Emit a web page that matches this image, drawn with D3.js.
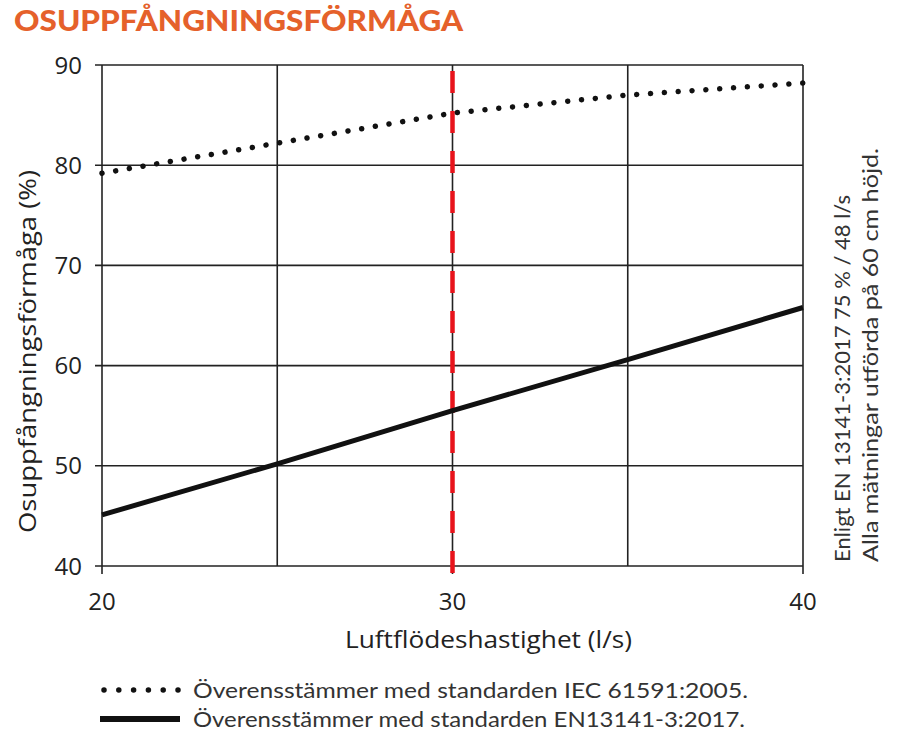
<!DOCTYPE html>
<html><head><meta charset="utf-8">
<script src="https://cdn.jsdelivr.net/npm/d3@7"></script>
<style>body{margin:0;background:#fff}svg{display:block}</style>
</head><body>
<script>
const title = "OSUPPFÅNGNINGSFÖRMÅGA";
const xTicks = [20, 30, 40];
const xGrid = [20, 25, 30, 35, 40];
const yTicks = [40, 50, 60, 70, 80, 90];
const flow = [20, 25, 30, 35, 40];
const iecValues = [79.2, 82.2, 85.2, 87.0, 88.2];
const enValues = [45.1, 50.2, 55.5, 60.6, 65.8];
const markerX = 30;
const xLabel = "Luftflödeshastighet (l/s)";
const yLabel = "Osuppfångningsförmåga (%)";
const noteLines = ["Enligt EN 13141-3:2017 75 % / 48 l/s", "Alla mätningar utförda på 60 cm höjd."];
const legendLabels = ["Överensstämmer med standarden IEC 61591:2005.", "Överensstämmer med standarden EN13141-3:2017."];

const W = 919, H = 737;
const svg = d3.select("body").append("svg").attr("width", W).attr("height", H);
const x = d3.scaleLinear().domain([20, 40]).range([102, 803]);
const y = d3.scaleLinear().domain([40, 90]).range([566, 65]);
const gridCol = "#222";

svg.append("text").attr("x", 14).attr("y", 31).text(title)
  .attr("font-family", "Lato, sans-serif").attr("font-weight", 900).attr("font-size", 28)
  .attr("fill", "#e5612b").attr("textLength", 449).attr("lengthAdjust", "spacingAndGlyphs");

const g = svg.append("g");
g.selectAll(".hg").data(yTicks).join("line")
  .attr("x1", 95).attr("x2", x(40)).attr("y1", d => y(d)).attr("y2", d => y(d))
  .attr("stroke", gridCol).attr("stroke-width", 1.6);
g.selectAll(".vg").data(xGrid).join("line")
  .attr("x1", d => x(d)).attr("x2", d => x(d)).attr("y1", y(90))
  .attr("y2", d => xTicks.includes(d) ? y(40) + 8 : y(40))
  .attr("stroke", gridCol).attr("stroke-width", 1.6);

g.selectAll(".yl").data(yTicks).join("text")
  .attr("x", 82).attr("y", d => y(d) + 8.5).attr("text-anchor", "end").text(d => d)
  .attr("font-family", "'Open Sans', sans-serif").attr("font-size", 24).attr("fill", "#222");
g.selectAll(".xl").data(xTicks).join("text")
  .attr("x", d => x(d)).attr("y", 610).attr("text-anchor", "middle").text(d => d)
  .attr("font-family", "'Open Sans', sans-serif").attr("font-size", 24).attr("fill", "#222");

svg.append("text").attr("x", 345).attr("y", 648).text(xLabel)
  .attr("font-family", "'Open Sans', sans-serif").attr("font-size", 23).attr("fill", "#222")
  .attr("textLength", 287).attr("lengthAdjust", "spacingAndGlyphs");
svg.append("text").attr("transform", "translate(36,533) rotate(-90)").text(yLabel)
  .attr("font-family", "'Open Sans', sans-serif").attr("font-size", 23).attr("fill", "#222")
  .attr("textLength", 363).attr("lengthAdjust", "spacingAndGlyphs");

const noteLen = [367, 414];
noteLines.forEach((t, i) => {
  svg.append("text").attr("transform", `translate(${850 + i * 28},562) rotate(-90)`).text(t)
    .attr("font-family", "Lato, sans-serif").attr("font-size", 21).attr("fill", "#333")
    .attr("textLength", noteLen[i]).attr("lengthAdjust", "spacingAndGlyphs");
});

const line = d3.line().x(d => x(d[0])).y(d => y(d[1]));
svg.append("line").attr("x1", x(markerX)).attr("x2", x(markerX)).attr("y1", 71).attr("y2", 573)
  .attr("stroke", "#e8141c").attr("stroke-width", 4.5).attr("stroke-dasharray", "22,18");
svg.append("path").datum(flow.map((f, i) => [f, enValues[i]])).attr("d", line)
  .attr("fill", "none").attr("stroke", "#111").attr("stroke-width", 5);
const dotted = svg.append("path").datum(flow.map((f, i) => [f, iecValues[i]])).attr("d", line)
  .attr("fill", "none").attr("stroke", "#111").attr("stroke-width", 5.5)
  .attr("stroke-linecap", "round");
const L = dotted.node().getTotalLength();
const n = Math.round(L / 14);
const gap = (L - 0.3) / n;
dotted.attr("stroke-dasharray", `0.01,${gap - 0.01}`);

const ly = [690, 719];
svg.append("line").attr("x1", 104).attr("x2", 180).attr("y1", ly[0]).attr("y2", ly[0])
  .attr("stroke", "#111").attr("stroke-width", 5.5).attr("stroke-linecap", "round").attr("stroke-dasharray", "0.01,14.79");
svg.append("line").attr("x1", 100).attr("x2", 180).attr("y1", ly[1]).attr("y2", ly[1])
  .attr("stroke", "#111").attr("stroke-width", 6);
const legLen = [555, 552];
legendLabels.forEach((t, i) => {
  svg.append("text").attr("x", 193).attr("y", ly[i] + 8).text(t)
    .attr("font-family", "Lato, sans-serif").attr("font-size", 22).attr("fill", "#333")
    .attr("textLength", legLen[i]).attr("lengthAdjust", "spacingAndGlyphs");
});
</script>
</body></html>
